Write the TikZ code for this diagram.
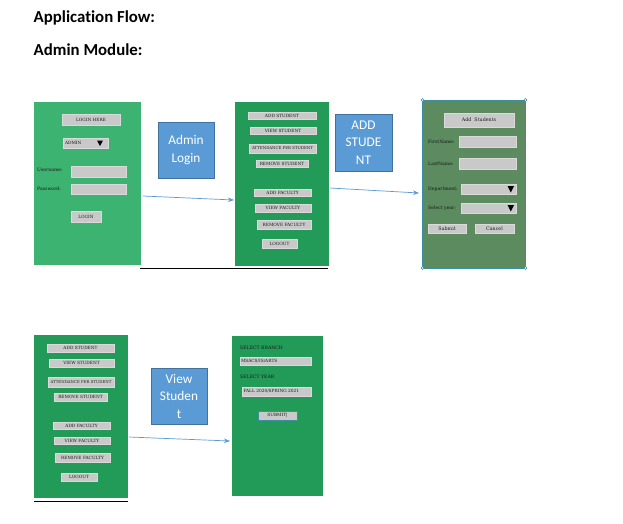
\documentclass[tikz,border=0pt]{standalone}
\usepackage{fontspec}
\setmainfont{DejaVu Serif}
\newfontfamily\carlito[Ligatures={NoCommon,NoRare}]{Carlito}
\usetikzlibrary{arrows.meta}
\definecolor{lightgreen}{HTML}{3CB371}
\definecolor{darkgreen}{HTML}{229A58}
\definecolor{greygreen}{HTML}{5B8B5E}
\definecolor{tealedge}{HTML}{3B8FA3}
\definecolor{btngray}{HTML}{C9C9C9}
\definecolor{btnedge}{HTML}{DADADA}
\definecolor{bluebox}{HTML}{5B9BD5}
\definecolor{blueedge}{HTML}{41719C}
\definecolor{arrowblue}{HTML}{5B9BD5}
\tikzset{
  panel/.style={draw=none, inner sep=0, outer sep=0},
  btn/.style={fill=btngray, draw=btnedge, line width=0.5pt, inner sep=0, outer sep=0,
    font=\fontsize{4.3}{5}\selectfont, text=black!90},
  lbl/.style={inner sep=0, anchor=west, font=\fontsize{4.6}{5}\selectfont, text=black!90},
  bluenote/.style={fill=bluebox, draw=blueedge, line width=0.7pt, inner sep=0, align=center,
    text=white, font=\carlito\fontsize{13.3}{17.5}\selectfont},
  arr/.style={draw=arrowblue, line width=0.7pt, -{Stealth[length=6pt,width=4.5pt]}},
  title/.style={inner sep=0, anchor=west, font=\carlito\bfseries\fontsize{16.8}{18}\selectfont},
  tri/.style={fill=black, draw=none},
  handle/.style={circle, fill=white, draw=tealedge, line width=0.4pt, inner sep=0, minimum size=3pt}
}
\begin{document}
\begin{tikzpicture}[x=1pt,y=-1pt]
\useasboundingbox (0,0) rectangle (623,523);
\fill[white] (0,0) rectangle (623,523);

% titles
\node[title] (t1) at (33.5,17.5) {Application Flow:};
\node[title] (t2) at (33.5,49.5) {Admin Module:};

% ---------- Login panel ----------
\node[panel, fill=lightgreen, minimum width=107, minimum height=163] (login) at (87.5,183.5) {};
\node[btn, minimum width=58, minimum height=11] (loginhere) at (91,120) {LOGIN HERE};
\node[btn, minimum width=45, minimum height=10, text width=41] (admin) at (85.5,143) {ADMIN};
\fill[tri] (97,140.5) -- (103,140.5) -- (100,146) -- cycle;
\node[lbl] (uname) at (37,170) {Username:};
\node[btn, minimum width=55, minimum height=11] (ufield) at (98.5,171.5) {};
\node[lbl] (pword) at (37,189) {Password:};
\node[btn, minimum width=55, minimum height=10] (pfield) at (98.5,189) {};
\node[btn, minimum width=30, minimum height=11] (loginbtn) at (86,216.5) {LOGIN};

% ---------- Admin menu panel (top) ----------
\node[panel, fill=darkgreen, minimum width=94, minimum height=164] (menu1) at (282,184) {};
\node[btn, minimum width=68, minimum height=7] (m1a) at (282,115.5) {ADD STUDENT};
\node[btn, minimum width=66, minimum height=7] (m1b) at (283,130.5) {VIEW STUDENT};
\node[btn, minimum width=67, minimum height=9, font=\fontsize{3.9}{5}\selectfont] (m1c) at (282.5,148.5) {ATTENDANCE PER STUDENT};
\node[btn, minimum width=52, minimum height=7] (m1d) at (282,163.5) {REMOVE STUDENT};
\node[btn, minimum width=57, minimum height=7] (m1e) at (282.5,193) {ADD FACULTY};
\node[btn, minimum width=56, minimum height=8] (m1f) at (283,208) {VIEW FACULTY};
\node[btn, minimum width=54, minimum height=9] (m1g) at (284,224.5) {REMOVE FACULTY};
\node[btn, minimum width=35, minimum height=9] (m1h) at (279.5,243.5) {LOGOUT};
\coordinate (line1a) at (140,268);
\coordinate (line1b) at (328,268);
\draw[black, line width=0.9pt] (line1a) -- (line1b);

% ---------- Add Students panel ----------
\node[panel, fill=greygreen, draw=tealedge, line width=1pt, minimum width=103, minimum height=168] (addp) at (474,184) {};
\foreach \c in {north west, north east, south west, south east}
  \node[handle] at ([xshift=0pt]addp.\c) {};
\node[btn, minimum width=70, minimum height=14, font=\fontsize{4.8}{5}\selectfont] (addhdr) at (479,120) {Add\ \ Students};
\node[lbl] (fn) at (428,142) {FirstName:};
\node[btn, minimum width=57, minimum height=11] (fnf) at (487.5,141.5) {};
\node[lbl] (ln) at (428,163.5) {LastName:};
\node[btn, minimum width=57, minimum height=11] (lnf) at (487.5,163.5) {};
\node[lbl] (dep) at (428,189) {Department:};
\node[btn, minimum width=55, minimum height=10] (depf) at (488.5,189) {};
\fill[tri] (507.5,186) -- (514,186) -- (510.75,192.5) -- cycle;
\node[lbl] (sy) at (428,208) {Select year:};
\node[btn, minimum width=55, minimum height=10] (syf) at (488.5,208) {};
\fill[tri] (507.5,205) -- (514,205) -- (510.75,211.5) -- cycle;
\node[btn, minimum width=38, minimum height=9, font=\fontsize{4.8}{5}\selectfont] (submit1) at (447,228.5) {Submit};
\node[btn, minimum width=39, minimum height=9, font=\fontsize{4.8}{5}\selectfont] (cancel1) at (494.5,228.5) {Cancel};

% ---------- blue notes ----------
\node[bluenote, minimum width=56, minimum height=56] (n1) at (186,150) {Admin\\Login};
\node[bluenote, minimum width=57, minimum height=57] (n2) at (363.5,142.5) {ADD\\STUDE\\NT};
\node[bluenote, minimum width=56, minimum height=56] (n3) at (179,396) {View\\Studen\\t};

% ---------- arrows (top) ----------
\coordinate (a1s) at (143,196);
\coordinate (a1e) at (234,200);
\draw[arr] (a1s) -- (a1e);
\coordinate (a2s) at (330,188);
\coordinate (a2e) at (419,193);
\draw[arr] (a2s) -- (a2e);

% ---------- Admin menu panel (bottom) ----------
\node[panel, fill=darkgreen, minimum width=94, minimum height=163] (menu2) at (81,416.5) {};
\node[btn, minimum width=67, minimum height=8] (m2a) at (80.5,348) {ADD STUDENT};
\node[btn, minimum width=65, minimum height=8] (m2b) at (81.5,363) {VIEW STUDENT};
\node[btn, minimum width=66, minimum height=10, font=\fontsize{3.9}{5}\selectfont] (m2c) at (81,382) {ATTENDANCE PER STUDENT};
\node[btn, minimum width=53, minimum height=8] (m2d) at (80.5,397) {REMOVE STUDENT};
\node[btn, minimum width=57, minimum height=7] (m2e) at (81.5,426) {ADD FACULTY};
\node[btn, minimum width=56, minimum height=7] (m2f) at (82,440.5) {VIEW FACULTY};
\node[btn, minimum width=55, minimum height=9] (m2g) at (82.5,457.5) {REMOVE FACULTY};
\node[btn, minimum width=36, minimum height=8] (m2h) at (79,477) {LOGOUT};
\coordinate (line2a) at (34,501.5);
\coordinate (line2b) at (128,501.5);
\draw[black, line width=0.9pt] (line2a) -- (line2b);

% ---------- Select panel ----------
\node[panel, fill=darkgreen, minimum width=91, minimum height=160] (selp) at (277.5,416) {};
\node[lbl] (sb) at (240,347.5) {SELECT BRANCH};
\node[btn, minimum width=71, minimum height=8, text width=69, align=left] (sbf) at (275.5,361) {MSACS/IS/ARTS};
\node[lbl] (syr) at (240,376.5) {SELECT YEAR};
\node[btn, minimum width=69, minimum height=9, text width=66, align=left] (syrf) at (276.5,391.5) {FALL 2020/SPRING 2021};
\node[btn, draw=tealedge, minimum width=39, minimum height=9] (subm2) at (277.5,415.5) {SUBMIT|};

% ---------- arrow (bottom) ----------
\coordinate (a3s) at (129,437);
\coordinate (a3e) at (230,441);
\draw[arr] (a3s) -- (a3e);
\end{tikzpicture}
\end{document}
